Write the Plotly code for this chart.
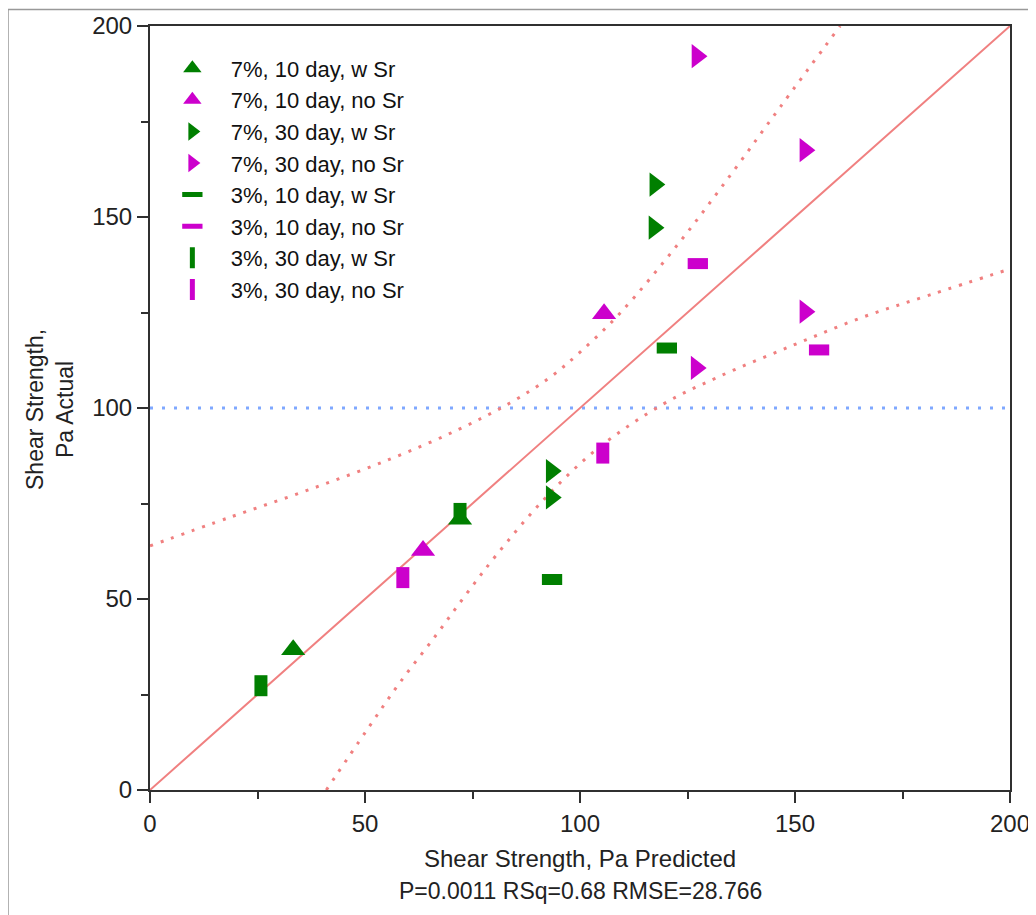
import plotly.graph_objects as go

GREEN = "#007F00"
MAGENTA = "#CC00CC"
RED = "#F08080"
BLUE = "#7FA8FF"

# Series values (predicted, actual)
tri10_w_x = [33.3, 72.1]
tri10_w_y = [36.7, 70.9]
tri10_n_x = [63.5, 105.6]
tri10_n_y = [62.7, 124.7]
tri30_w_x = [117.4, 117.2, 93.3, 93.3]
tri30_w_y = [158.5, 147.2, 83.5, 76.6]
tri30_n_x = [127.2, 152.3, 152.3, 127.0]
tri30_n_y = [192.1, 167.5, 125.2, 110.5]
bar10_w_x = [120.2, 93.5]
bar10_w_y = [115.7, 55.1]
bar10_n_x = [127.4, 155.6]
bar10_n_y = [137.8, 115.2]
bar30_w_x = [25.8, 72.1]
bar30_w_y = [27.3, 72.4]
bar30_n_x = [58.8, 105.3]
bar30_n_y = [55.6, 88.2]

series_names = ["7%, 10 day, w Sr", "7%, 10 day, no Sr", "7%, 30 day, w Sr", "7%, 30 day, no Sr",
                "3%, 10 day, w Sr", "3%, 10 day, no Sr", "3%, 30 day, w Sr", "3%, 30 day, no Sr"]

# Fit line, mean line and confidence curves
fit_x = [0, 200]
fit_y = [0, 200]
mean_y = 100
upper_x = [0, 18.6, 37.2, 55.8, 71.4, 83.7, 93.0, 100.0, 109.3, 123.3, 135.6, 146.5, 160.5]
upper_y = [63.9, 71.4, 78.7, 86.6, 94.2, 101.3, 108.0, 114.6, 124.8, 143.6, 161.9, 178.7, 200]
lower_x = [41.0, 50.5, 58.1, 66.7, 73.7, 80.7, 91.4, 104.0, 119.3, 131.9, 149.5, 165.8, 181.4, 200]
lower_y = [0, 15.8, 28.1, 40.8, 51.5, 61.7, 75.8, 89.3, 101.0, 108.0, 116.4, 123.8, 129.6, 136.4]

tick_vals = [0, 50, 100, 150, 200]
tick_text = ["0", "50", "100", "150", "200"]

PAD = "\u00a0\u00a0\u00a0"

fig = go.Figure()

fig.add_trace(go.Scatter(x=[0, 200], y=[mean_y, mean_y], mode="lines",
                         line=dict(color=BLUE, width=3, dash="3px,9px"), showlegend=False, hoverinfo="skip"))
fig.add_trace(go.Scatter(x=upper_x, y=upper_y, mode="lines", line_shape="spline",
                         line=dict(color=RED, width=3, dash="3px,8px"), showlegend=False, hoverinfo="skip"))
fig.add_trace(go.Scatter(x=lower_x, y=lower_y, mode="lines", line_shape="spline",
                         line=dict(color=RED, width=3, dash="3px,8px"), showlegend=False, hoverinfo="skip"))
fig.add_trace(go.Scatter(x=fit_x, y=fit_y, mode="lines",
                         line=dict(color=RED, width=2), showlegend=False, hoverinfo="skip"))

def tri(x, y, name, color, sym):
    fig.add_trace(go.Scatter(x=x, y=y, mode="markers", name=PAD + name,
                             marker=dict(symbol=sym, size=21, color=color, line=dict(width=0))))

def bar(x, y, name, color, sym, size, lw):
    fig.add_trace(go.Scatter(x=x, y=y, mode="markers", name=PAD + name,
                             marker=dict(symbol=sym, size=size, color=color,
                                         line=dict(color=color, width=lw))))

tri(tri10_w_x, tri10_w_y, series_names[0], GREEN, "triangle-up")
tri(tri10_n_x, tri10_n_y, series_names[1], MAGENTA, "triangle-up")
tri(tri30_w_x, tri30_w_y, series_names[2], GREEN, "triangle-right")
tri(tri30_n_x, tri30_n_y, series_names[3], MAGENTA, "triangle-right")
bar(bar10_w_x, bar10_w_y, series_names[4], GREEN, "line-ew", 14.5, 11)
bar(bar10_n_x, bar10_n_y, series_names[5], MAGENTA, "line-ew", 14.5, 11)
bar(bar30_w_x, bar30_w_y, series_names[6], GREEN, "line-ns", 15, 13)
bar(bar30_n_x, bar30_n_y, series_names[7], MAGENTA, "line-ns", 15, 13)

axis_common = dict(range=[0, 200], tickvals=tick_vals, ticktext=tick_text, automargin=False,
                   showgrid=False, zeroline=False, showline=True, linecolor="#303030",
                   linewidth=2, mirror=True, ticks="outside", ticklen=11, tickwidth=2,
                   tickcolor="#303030", tickfont=dict(family="Liberation Sans, Arial", size=24, color="#222"),
                   minor=dict(dtick=25, tick0=0, ticks="outside", ticklen=7, tickwidth=2, tickcolor="#303030"))

OFF = 8  # page body offset
W, H = 1036 - OFF, 915 - OFF
fig.update_layout(
    width=W, height=H,
    margin=dict(l=150 - OFF, r=OFF + W - 1010, t=26 - OFF, b=OFF + H - 790, autoexpand=False),
    paper_bgcolor="white", plot_bgcolor="white",
    font=dict(family="Liberation Sans, Arial", color="#222"),
    xaxis=axis_common,
    yaxis=axis_common,
    legend=dict(x=0.026, y=0.972, xanchor="left", yanchor="top",
                bgcolor="rgba(0,0,0,0)", font=dict(size=22, color="#111"),
                tracegroupgap=0, itemwidth=30),
    showlegend=True,
)

fig.add_annotation(text="Shear Strength, Pa Predicted", xref="paper", yref="paper",
                   x=0.5, y=(790 - 858) / 764, showarrow=False, yanchor="middle",
                   font=dict(size=24, color="#222"))
fig.add_annotation(text="P=0.0011 RSq=0.68 RMSE=28.766", xref="paper", yref="paper",
                   x=0.5, y=(790 - 891) / 764, showarrow=False, yanchor="middle",
                   font=dict(size=23, color="#222"))
fig.add_annotation(text="Shear Strength,<br>Pa Actual", xref="paper", yref="paper",
                   x=(50 - 150) / 860, y=(790 - 410) / 764, showarrow=False, textangle=-90,
                   xanchor="center", yanchor="middle", font=dict(size=23, color="#222"))

fig.add_shape(type="rect", xref="paper", yref="paper",
              x0=(8 - 150) / 860, x1=(1045 - 150) / 860,
              y0=(790 - 930) / 764, y1=(790 - 9.5) / 764,
              line=dict(color="#999999", width=1.5), fillcolor="rgba(0,0,0,0)", layer="below")

fig.write_html("out.html")
